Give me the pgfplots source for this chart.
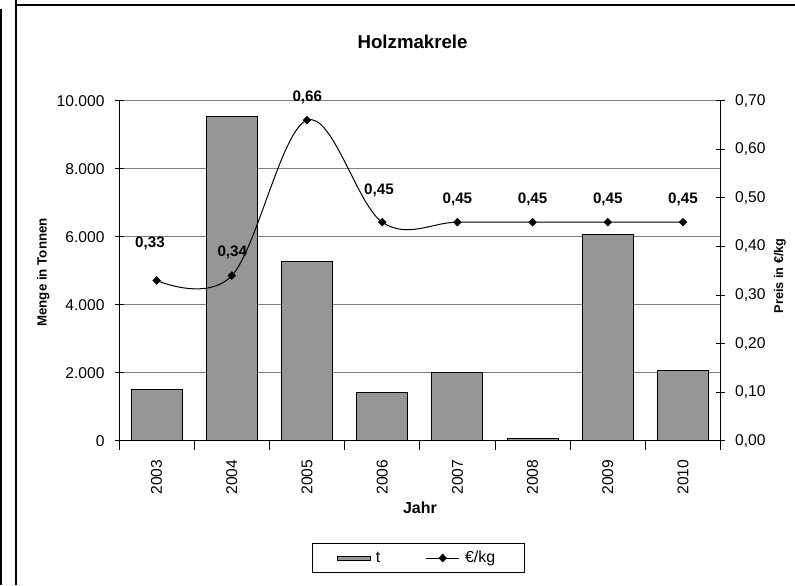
\documentclass[border=0pt]{standalone}
\usepackage{fontspec}
\setmainfont{Liberation Sans}
\usepackage{pgfplots}
\pgfplotsset{compat=1.18}
\definecolor{barfill}{RGB}{150,150,150}
\definecolor{gridgray}{RGB}{128,128,128}
\pgfplotsset{pricelegend/.style={legend image code/.code={\draw[mark repeat=2,mark phase=2,##1] plot coordinates {(0pt,0pt) (12.4pt,0pt) (24.75pt,0pt)};}}}

\begin{document}
\begin{tikzpicture}
\useasboundingbox (0,0) rectangle (596.25pt,438.75pt);
\draw[line width=1.5pt] (0.75pt,0) -- (0.75pt,432pt);
\draw[line width=1.5pt] (12pt,0) -- (12pt,438.75pt);
\draw[line width=1.5pt] (12pt,435pt) -- (596.25pt,435pt);

\pgfplotsset{
  common/.style={
    at={(89.25pt,108.2pt)}, anchor=south west,
    width=451.2pt, height=255pt, scale only axis,
    xmin=-0.5, xmax=7.5, enlargelimits=false,
    tick align=center, major tick length=6.75pt,
    every tick/.style={black, line width=0.75pt},
    axis line style={line width=0.75pt},
    scaled y ticks=false,
    /pgf/number format/assume math mode=true,
    tick label style={font=\fontsize{11.7}{13}\selectfont},
  }
}

\begin{axis}[common,
  ybar, bar width=0.678,
  axis x line*=bottom, axis y line*=left,
  ymin=0, ymax=10000,
  ytick={0,2000,4000,6000,8000,10000},
  yticklabels={0,2.000,4.000,6.000,8.000,10.000},
  yticklabel shift=4pt,
  xtick={-0.5,0.5,1.5,2.5,3.5,4.5,5.5,6.5,7.5},
  xticklabels={2003,2004,2005,2006,2007,2008,2009,2010},
  x tick label as interval,
  xticklabel style={rotate=90, anchor=east},
  xticklabel shift=4pt,
  ymajorgrids, major grid style={gridgray, line width=0.6pt},
  ylabel={Menge in Tonnen},
  ylabel style={at={(axis description cs:-0.1258,0.495)}, anchor=center, font=\bfseries\fontsize{10}{12}\selectfont},
  xlabel={Jahr},
  xlabel style={at={(axis description cs:0.5003,-0.197)}, anchor=center, font=\bfseries\fontsize{12}{14}\selectfont},
  title={Holzmakrele},
  title style={at={(axis description cs:0.488,1.151)}, anchor=center, font=\bfseries\fontsize{14}{16}\selectfont},
]
\addplot[fill=barfill, draw=black, line width=0.75pt] coordinates {(0,1510) (1,9530) (2,5265) (3,1424) (4,2000) (5,70) (6,6070) (7,2070)};
\end{axis}

\begin{axis}[common,
  axis x line=none, axis y line*=right,
  ymin=0, ymax=0.7,
  ytick={0,0.1,0.2,0.3,0.4,0.5,0.6,0.7},
  yticklabels={{0,00},{0,10},{0,20},{0,30},{0,40},{0,50},{0,60},{0,70}},
  yticklabel shift=4pt,
  ylabel={Preis in €/kg},
  ylabel style={at={(axis description cs:1.0987,0.485)}, anchor=center, font=\bfseries\fontsize{9.5}{11}\selectfont},
  clip=false,
  legend columns=2,
  legend style={at={(axis description cs:0.498,-0.345)}, anchor=center, draw=black, line width=0.75pt,
    font=\fontsize{12}{14}\selectfont, inner xsep=18pt, inner ysep=3.5pt,
    nodes={inner xsep=4pt},
    /tikz/every even column/.append style={column sep=30pt}},
]
\addlegendimage{legend image code/.code={\draw[fill=barfill,draw=black,line width=0.75pt] (0pt,-1.5pt) rectangle (24.75pt,1.5pt);}}
\addlegendentry{t}
\addplot[black, line width=0.75pt, smooth, tension=0.6, mark=diamond*, mark size=2.7pt,
  mark options={solid, fill=black, xscale=1.3}, pricelegend]
  coordinates {(0,0.33) (1,0.34) (2,0.66) (3,0.45) (4,0.45) (5,0.45) (6,0.45) (7,0.45)};
\addlegendentry{€/kg}
\addplot[draw=none, mark=none, forget plot, nodes near coords, point meta=explicit symbolic,
  nodes near coords style={anchor=center, font=\bfseries\fontsize{11.4}{13}\selectfont}]
  table[meta=label] {
x y label
-0.088 0.407 0,33
1.007 0.387 0,34
2.004 0.706 0,66
2.957 0.515 0,45
4 0.497 0,45
5 0.497 0,45
6 0.497 0,45
7 0.497 0,45
};
\end{axis}
\end{tikzpicture}
\end{document}
